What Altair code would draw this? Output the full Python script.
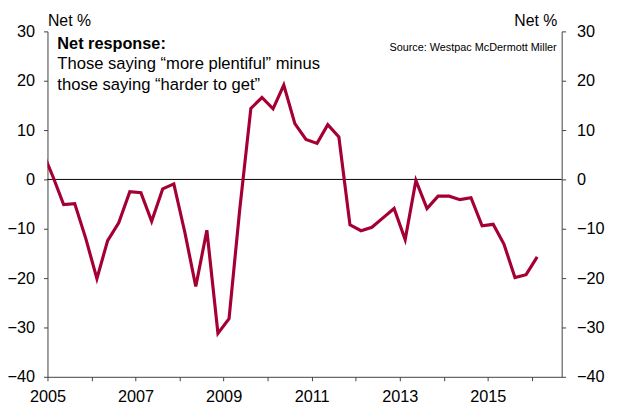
import altair as alt
import pandas as pd

# Quarterly survey dates (mid-month) and net response values (%)
dates = [
    "2004-11-15", "2005-02-15", "2005-05-15", "2005-08-15", "2005-11-15",
    "2006-02-15", "2006-05-15", "2006-08-15", "2006-11-15",
    "2007-02-15", "2007-05-15", "2007-08-15", "2007-11-15",
    "2008-02-15", "2008-05-15", "2008-08-15", "2008-11-15",
    "2009-02-15", "2009-05-15", "2009-08-15", "2009-11-15",
    "2010-02-15", "2010-05-15", "2010-08-15", "2010-11-15",
    "2011-02-15", "2011-05-15", "2011-08-15", "2011-11-15",
    "2012-02-15", "2012-05-15", "2012-08-15", "2012-11-15",
    "2013-02-15", "2013-05-15", "2013-08-15", "2013-11-15",
    "2014-02-15", "2014-05-15", "2014-08-15", "2014-11-15",
    "2015-02-15", "2015-05-15", "2015-08-15", "2015-11-15",
    "2016-02-15",
]
values = [
    6.0, 0.6, -5.1, -4.9, -12.0,
    -20.1, -12.4, -8.8, -2.5,
    -2.7, -8.5, -1.9, -0.9,
    -10.8, -21.7, -10.3, -31.2,
    -28.2, -6.0, 14.4, 16.6,
    14.3, 19.1, 11.3, 8.1,
    7.3, 11.1, 8.6, -9.2,
    -10.4, -9.7, -7.8, -5.9,
    -12.2, -0.2, -5.9, -3.4,
    -3.4, -4.1, -3.7, -9.4,
    -9.1, -13.1, -19.9, -19.3,
    -15.7,
]
y_ticks = [-40, -30, -20, -10, 0, 10, 20, 30]
year_ticks = list(range(2005, 2017))
axis_title = "Net %"
note_title = "Net response:"
note_lines = ["Those saying \u201cmore plentiful\u201d minus", "those saying \u201charder to get\u201d"]
source_text = "Source: Westpac McDermott Miller"

FONT = "Liberation Sans"
LINE_COLOR = "#A50034"
AXIS_COLOR = "#404040"

df = pd.DataFrame({"date": [d + "T00:00:00" for d in dates], "value": values})

x_scale = alt.Scale(domain=[alt.DateTime(year=2005, month=1, date=1),
                            alt.DateTime(year=2016, month=9, date=5)])
y_scale = alt.Scale(domain=[-40, 30], nice=False, zero=False)

y_axis_common = dict(
    values=y_ticks, grid=False, tickSize=4, labelFontSize=16.5,
    title=axis_title, titleAngle=0, titleFontSize=16, titleFontWeight="normal",
    titleY=-6, titleBaseline="alphabetic", domainColor=AXIS_COLOR, tickColor=AXIS_COLOR,
)

x_axis = alt.Axis(
    values=[alt.DateTime(year=y, month=1, date=1) for y in year_ticks],
    format="%Y",
    labelExpr="year(datum.value) % 2 == 1 ? datum.label : ''",
    grid=False, tickSize=4, labelPadding=8, labelFlush=False, labelOverlap=False,
    labelFontSize=16.5, title=None, domainColor=AXIS_COLOR, tickColor=AXIS_COLOR,
)

zero = alt.Chart(pd.DataFrame({"value": [0]})).mark_rule(color="black", strokeWidth=1).encode(
    y=alt.Y("value:Q", scale=y_scale,
            axis=alt.Axis(orient="right", titleX=-5, titleAlign="right", labelPadding=11,
                          **y_axis_common)),
)

line = alt.Chart(df).mark_line(color=LINE_COLOR, strokeWidth=3.2, clip=True).encode(
    x=alt.X("date:T", scale=x_scale, axis=x_axis),
    y=alt.Y("value:Q", scale=y_scale,
            axis=alt.Axis(orient="left", titleX=0, titleAlign="left", labelPadding=9,
                          **y_axis_common)),
)

dummy = pd.DataFrame({"k": [0]})
title_txt = alt.Chart(dummy).mark_text(
    align="left", baseline="alphabetic", fontSize=16.5, fontWeight="bold", font=FONT, color="black"
).encode(x=alt.value(10), y=alt.value(18), text=alt.value(note_title))

note_txt = alt.Chart(dummy).mark_text(
    align="left", baseline="alphabetic", fontSize=16.8, font=FONT, color="black", lineHeight=21
).encode(x=alt.value(10), y=alt.value(38), text=alt.value(note_lines))

src_txt = alt.Chart(dummy).mark_text(
    align="right", baseline="alphabetic", fontSize=11, font=FONT, color="black"
).encode(x=alt.value(516), y=alt.value(20), text=alt.value(source_text))

chart = alt.layer(zero, line, title_txt, note_txt, src_txt).resolve_scale(
    y="independent"
).properties(
    width=521, height=350,
    autosize=alt.AutoSizeParams(type="none"),
    padding={"left": 40, "top": 21, "right": 51, "bottom": 36},
).configure(font=FONT).configure_view(stroke=None).configure_axis(
    labelColor="black", titleColor="black", labelFont=FONT, titleFont=FONT
)

chart.save("out.html", embed_options={"renderer": "svg", "actions": False})
